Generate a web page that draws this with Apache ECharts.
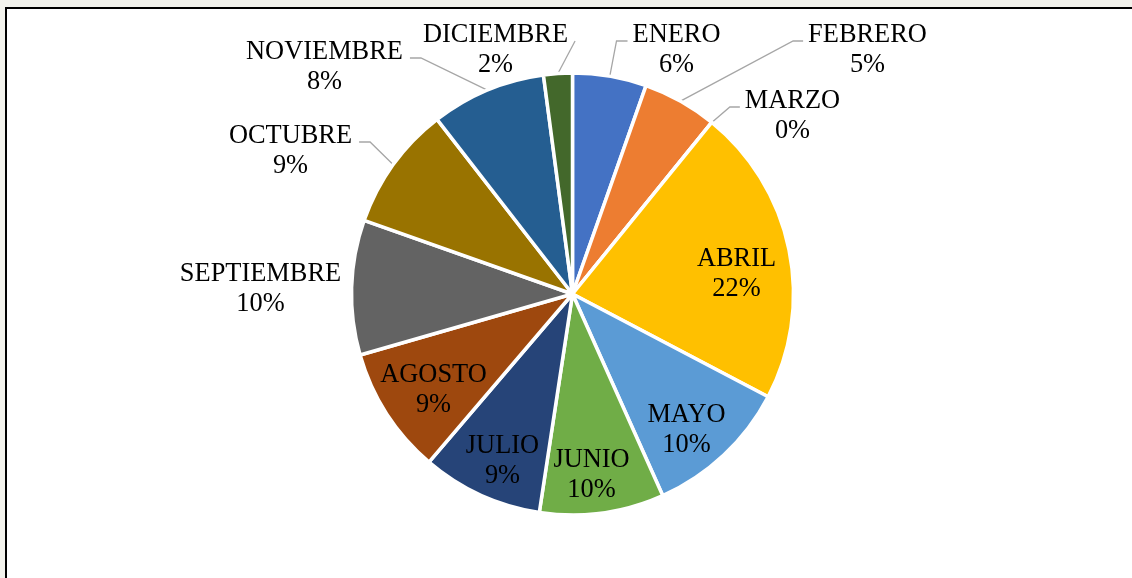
<!DOCTYPE html>
<html>
<head>
<meta charset="utf-8">
<script src="https://cdn.jsdelivr.net/npm/echarts@6/dist/echarts.min.js"></script>
<style>
html, body { margin: 0; padding: 0; }
body { width: 1132px; height: 578px; background: #f2f2ec; overflow: hidden; position: relative; }
#marco {
  position: absolute; left: 5px; top: 7px; width: 1140px; height: 590px;
  border-top: 2px solid #000; border-left: 2px solid #000; background: #fff;
}
#grafico { position: absolute; left: 0; top: 0; width: 1132px; height: 578px; }
</style>
</head>
<body>
<div id="marco"></div>
<div id="grafico"></div>
<script>
const meses = ['ENERO', 'FEBRERO', 'MARZO', 'ABRIL', 'MAYO', 'JUNIO', 'JULIO', 'AGOSTO', 'SEPTIEMBRE', 'OCTUBRE', 'NOVIEMBRE', 'DICIEMBRE']
const valores = [5.4, 5.45, 0, 21.85, 10.6, 9.1, 8.85, 9.3, 9.85, 9.1, 8.4, 2.1]
// texto de porcentaje tal como aparece en cada etiqueta
const porcentajes = ['6%', '5%', '0%', '22%', '10%', '10%', '9%', '9%', '10%', '9%', '8%', '2%']

const colores = ['#4472C4', '#ED7D31', '#A5A5A5', '#FFC000', '#5B9BD5', '#70AD47',
  '#264478', '#9E480E', '#636363', '#997300', '#255E91', '#43682B']

// centro y radio del pastel (px)
const CX = 572.5
const CY = 294
const R = 221
// posicion de cada etiqueta respecto al centro del pastel
const posEtiqueta = [
  [104, -244], [295, -244], [220, -178], [164, -20], [114, 136], [19, 181],
  [-70, 167], [-139, 96], [-312, -5], [-282, -143], [-248, -227], [-77, -244]
]
const conLinea = [true, true, true, false, false, false, false, false, false, true, true, true]
const tramo = [11, 10, 10, 0, 0, 0, 0, 0, 0, 11, 11, 0] // tramo horizontal de la linea guia

const total = valores.reduce((a, b) => a + b, 0)
const angMedio = []
let acum = 0
valores.forEach(v => {
  angMedio.push((acum + v / 2) / total * Math.PI * 2)
  acum += v
})

let datos = meses.map((m, i) => ({
  name: m,
  value: valores[i],
  itemStyle: { color: colores[i] },
  labelLine: { show: conLinea[i] }
}))

let myChart = echarts.init(document.getElementById('grafico'), null, { renderer: 'canvas' })
myChart.setOption({
  animation: false,
  backgroundColor: 'transparent',
  series: [
    {
      type: 'pie',
      center: [CX, CY],
      radius: R,
      startAngle: 90,
      clockwise: true,
      avoidLabelOverlap: false,
      emphasis: { disabled: true },
      itemStyle: { borderColor: '#fff', borderWidth: 3.5 },
      label: {
        show: true,
        position: 'outside',
        formatter: p => p.name + '\n' + porcentajes[p.dataIndex],
        fontFamily: 'Liberation Serif',
        fontSize: 26.4,
        lineHeight: 30,
        color: '#000'
      },
      labelLine: { show: true, lineStyle: { color: '#a6a6a6', width: 1.3 } },
      labelLayout: function (p) {
        const i = p.dataIndex
        const x = CX + posEtiqueta[i][0]
        const y = CY + posEtiqueta[i][1]
        const out = { x: x, y: y, align: 'center', verticalAlign: 'middle' }
        if (conLinea[i]) {
          const a = angMedio[i]
          const p0 = [CX + R * Math.sin(a), CY - R * Math.cos(a)]
          const w = p.labelRect.width
          const derecha = x > p0[0]
          const ex = derecha ? x - w / 2 - 5 : x + w / 2 + 7
          const ly = y - 9
          const p1 = [derecha ? ex - tramo[i] : ex + tramo[i], ly]
          out.labelLinePoints = [p0, p1, [ex, ly]]
        }
        return out
      },
      data: datos
    }
  ]
})
</script>
</body>
</html>
